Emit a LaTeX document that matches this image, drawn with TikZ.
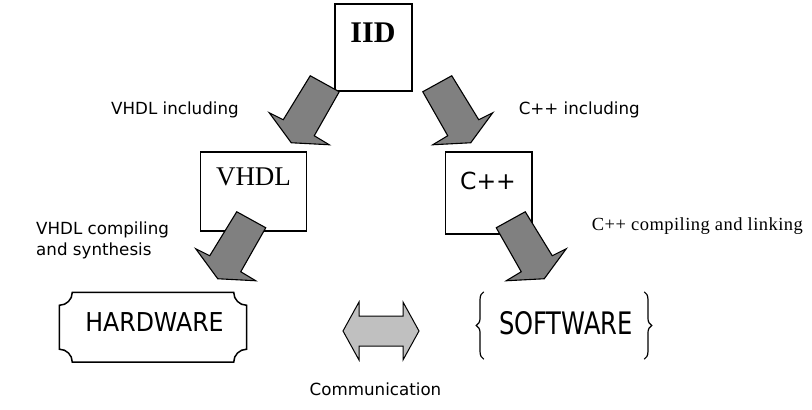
\documentclass[tikz,border=0pt]{standalone}
\usepackage{fontspec}
\usetikzlibrary{calc,decorations.pathreplacing}
\newfontfamily\tah{DejaVu Sans}
\newfontfamily\tms{Liberation Serif}
\newfontfamily\tmsls[LetterSpace=2.5]{Liberation Serif}
\definecolor{arrowgray}{HTML}{808080}
\definecolor{commgray}{HTML}{C0C0C0}
\tikzset{
  box/.style={draw=black, line width=1.5pt, fill=white, inner sep=0pt},
  frame/.style={draw=none, inner sep=0pt},
  lbl/.style={inner sep=0pt, text=black},
  smalllbl/.style={lbl, font=\tah\fontsize{16.7}{21}\selectfont},
  blockarrow/.style={draw=black, line width=1.1pt, fill=arrowgray, line join=miter},
  arrowL/.pic={\draw[blockarrow] (-29,-16) -- (0,0) -- (-25,44) -- (-10,53) -- (-48,51) -- (-70,21) -- (-56,28) -- cycle;},
  arrowR/.pic={\draw[blockarrow] (29,-16) -- (0,0) -- (25,44) -- (10,53) -- (48,51) -- (70,21) -- (56,28) -- cycle;},
  plaque/.style={draw=black, line width=1.5pt},
  curly/.style={draw=black, line width=1.2pt, decorate, decoration={brace, amplitude=7.5pt}},
  commarrow/.style={draw=black, line width=1pt, fill=commgray, line join=miter}
}
\begin{document}
\begin{tikzpicture}[x=1pt,y=-1pt]
\useasboundingbox (0,0) rectangle (812,410);

% boxes
\node[box, minimum width=77pt, minimum height=87pt] (iid) at (373.5,47.5) {};
\node[lbl, anchor=base] (iidtxt) at (373,42.7) {\tms\bfseries\fontsize{30}{30}\selectfont IID};

\node[box, minimum width=106pt, minimum height=79pt] (vhdl) at (253.7,191.5) {};
\node[lbl, anchor=base] (vhdltxt) at (253.5,185.7) {\tms\fontsize{27}{27}\selectfont VHDL};

\node[box, minimum width=86.3pt, minimum height=82pt] (cpp) at (488.85,193) {};
\node[lbl, anchor=base] (cpptxt) at (488,189) {\tah\fontsize{23.5}{23.5}\selectfont C++};

% hardware plaque
\node[frame, minimum width=187pt, minimum height=69.5pt] (hw) at (153,327.25) {};
\draw[plaque] ($(hw.north west)+(13,0)$) -- ($(hw.north east)+(-13,0)$)
  .. controls +(0,7.2) and +(-7.2,0) .. ($(hw.north east)+(0,13)$)
  -- ($(hw.south east)+(0,-13)$)
  .. controls +(-7.2,0) and +(0,-7.2) .. ($(hw.south east)+(-13,0)$)
  -- ($(hw.south west)+(13,0)$)
  .. controls +(0,-7.2) and +(7.2,0) .. ($(hw.south west)+(0,-13)$)
  -- ($(hw.north west)+(0,13)$)
  .. controls +(7.2,0) and +(0,7.2) .. cycle;
\node[lbl, anchor=base] (hwtxt) at (154.5,331.7) {\tah\fontsize{26}{26}\selectfont\scalebox{0.91}[1]{HARDWARE}};

% software with braces
\node[frame, minimum width=160pt, minimum height=67pt] (sw) at (564,325.5) {};
\node[lbl, anchor=base] (swtxt) at (566,334.3) {\tah\fontsize{31}{31}\selectfont\scalebox{0.78}[1]{SOFTWARE}};
\draw[curly] (sw.south west) -- (sw.north west);
\draw[curly] (sw.north east) -- (sw.south east);

% block arrows
\pic at ($(iid.south west)+(5,0)$) {arrowL};
\pic at ($(iid.south east)+(10,0)$) {arrowR};
\pic at ($(vhdl.south east)+(-41.7,-4)$) {arrowL};
\pic at ($(cpp.south west)+(51.3,-7)$) {arrowR};

% communication double arrow
\coordinate (comm) at (381,331);
\draw[commarrow] ($(comm)+(-38,0)$) -- ($(comm)+(-22,-29)$) -- ($(comm)+(-22,-15)$) -- ($(comm)+(22,-15)$) -- ($(comm)+(22,-29)$) -- ($(comm)+(38,0)$) -- ($(comm)+(22,29)$) -- ($(comm)+(22,15)$) -- ($(comm)+(-22,15)$) -- ($(comm)+(-22,29)$) -- cycle;

% labels
\node[smalllbl, anchor=base] (lvi) at (175,114) {VHDL including};
\node[smalllbl, anchor=base] (lci) at (579.3,114.3) {C++ including};
\node[smalllbl, anchor=base west] (lvc) at (36,234) {\vtop{\hbox{VHDL compiling}\hbox{and synthesis}}};
\node[lbl, anchor=base west] (lcc) at (591.7,230.7) {\tmsls\fontsize{18.5}{18.5}\selectfont C++ compiling and linking};
\node[smalllbl, anchor=base] (lcomm) at (375.5,395) {Communication};
\end{tikzpicture}
\end{document}
